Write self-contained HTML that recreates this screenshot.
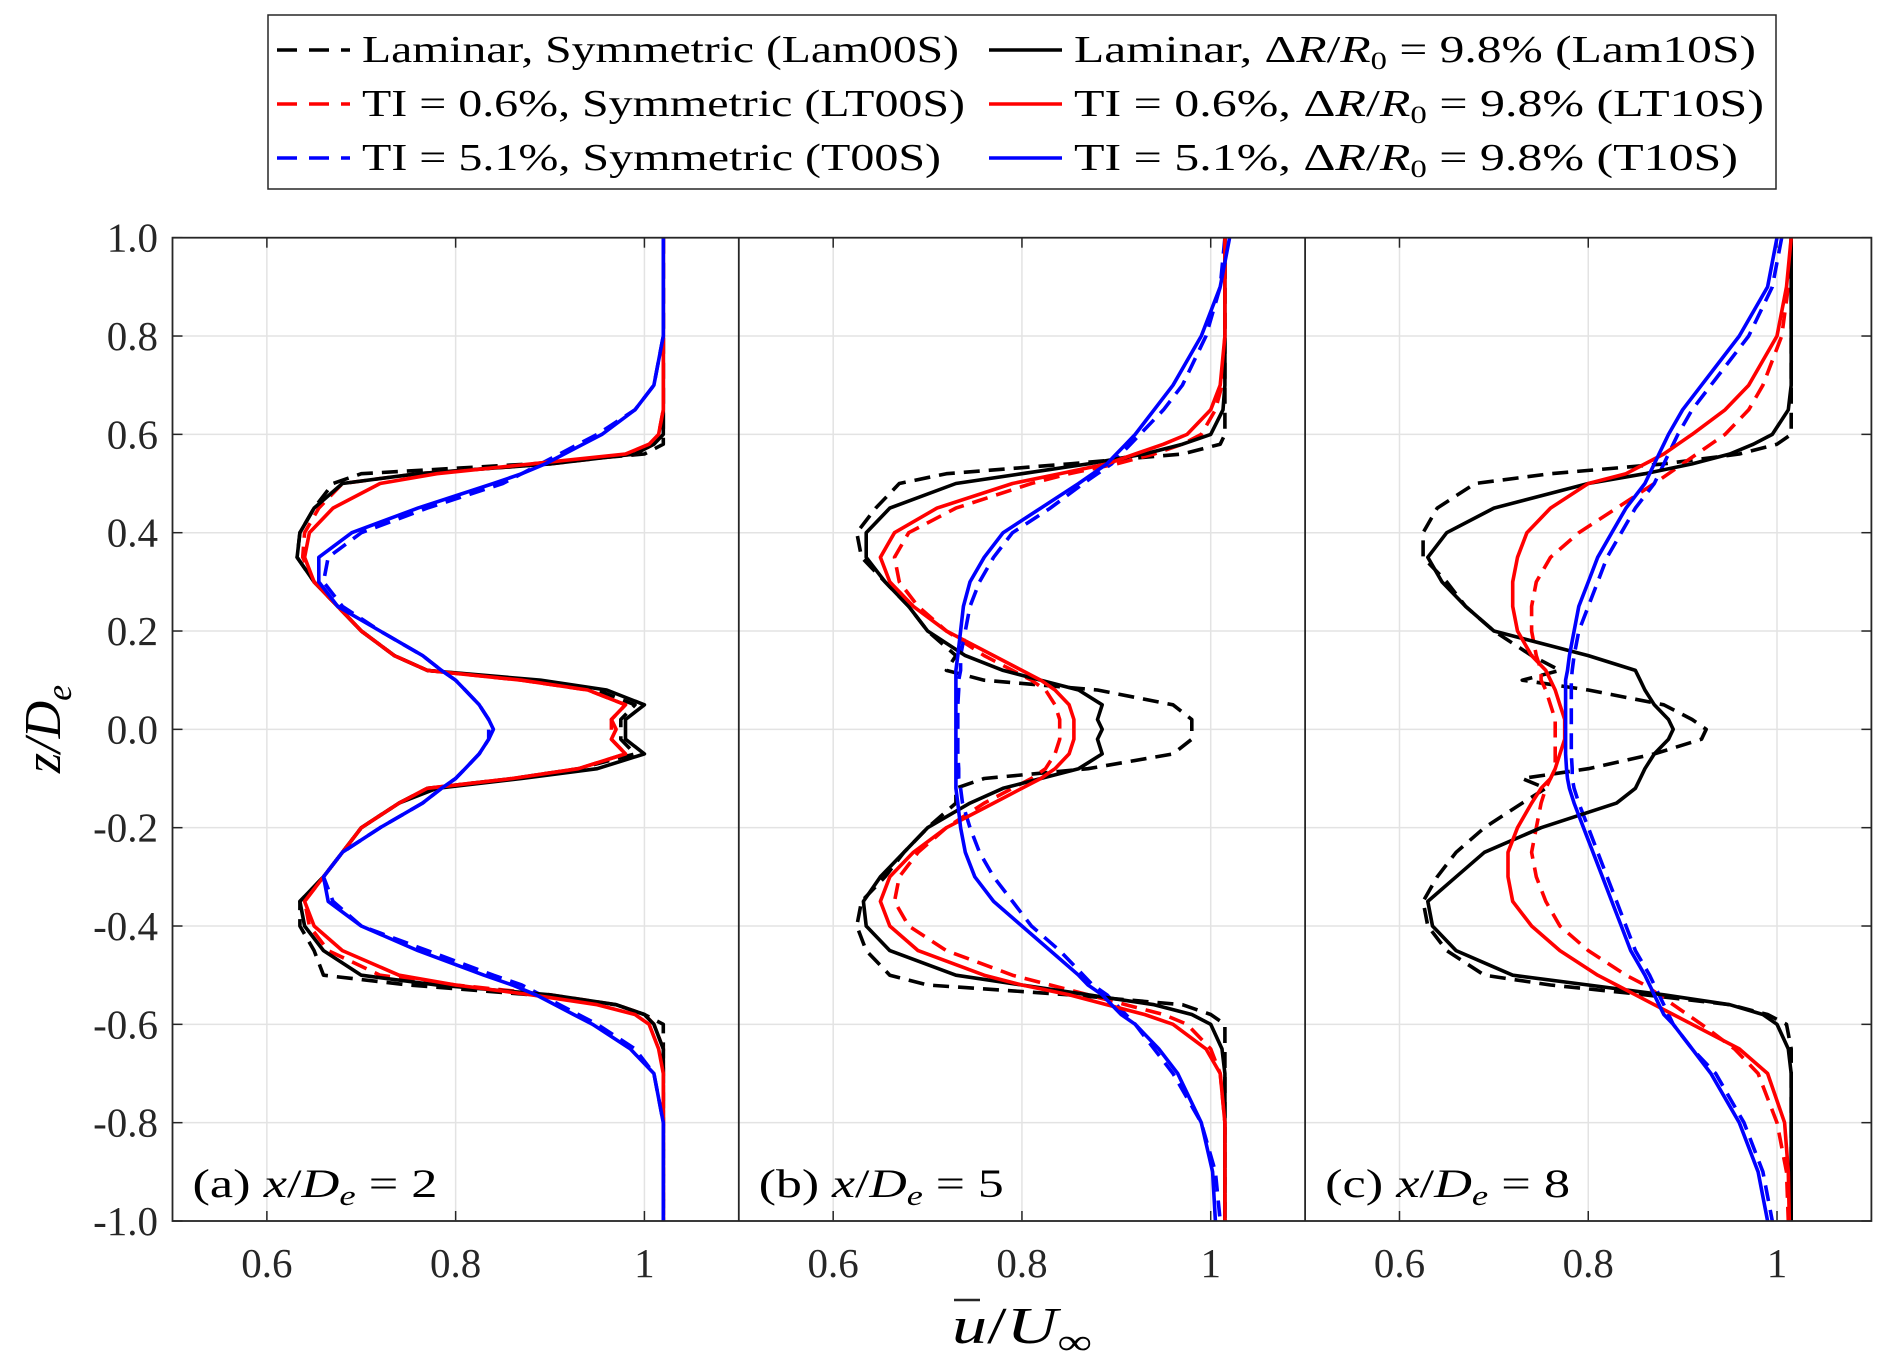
<!DOCTYPE html>
<html><head><meta charset="utf-8">
<style>
html,body{margin:0;padding:0;background:#fff;}
svg{display:block;}
svg text{font-family:"Liberation Serif","DejaVu Serif",serif;}
</style></head>
<body>
<svg id="chart" width="1892" height="1369" viewBox="0 0 1892 1369" xmlns="http://www.w3.org/2000/svg" font-family="Liberation Serif, DejaVu Serif, serif">
  <rect x="0" y="0" width="1892" height="1369" fill="#fff"/>
  <g id="legend">
    <rect x="268" y="15" width="1508" height="174" fill="#fff" stroke="#262626" stroke-width="1.5"/>
  </g>
  <g id="plots"></g>
  <text transform="translate(60,729) rotate(-90)" text-anchor="middle" font-size="52" font-style="italic">z/D<tspan font-size="36" dy="11">e</tspan></text>
  <text x="952" y="1343" font-size="52" textLength="140" lengthAdjust="spacingAndGlyphs"><tspan font-style="italic">u</tspan>/<tspan font-style="italic">U</tspan><tspan font-size="36" dy="11">∞</tspan></text>
  <line x1="954" y1="1300" x2="980" y2="1300" stroke="#262626" stroke-width="2.5"/>
</svg>
<script>
const zGrid=[1,0.9,0.8,0.7,0.65,0.6,0.58,0.56,0.54,0.52,0.5,0.45,0.4,0.35,0.3,0.25,0.2,0.15,0.12,0.1,0.08,0.05,0.02,0,-0.02,-0.05,-0.08,-0.1,-0.12,-0.15,-0.2,-0.25,-0.3,-0.35,-0.4,-0.45,-0.5,-0.52,-0.54,-0.56,-0.58,-0.6,-0.65,-0.7,-0.8,-0.9,-1];
const xTicks=[0.6,0.8,1.0];
const xTickLabels=["0.6","0.8","1"];
const yTicks=[1,0.8,0.6,0.4,0.2,0,-0.2,-0.4,-0.6,-0.8,-1];
const yTickLabels=["1.0","0.8","0.6","0.4","0.2","0.0","-0.2","-0.4","-0.6","-0.8","-1.0"];
const panelLabels=["(a)","(b)","(c)"];
const panelX=["2","5","8"];
// panel a
const aLam00=[1.02,1.02,1.02,1.02,1.02,1.02,1.02,1.0,0.88,0.70,0.67,0.65,0.635,0.632,0.65,0.675,0.70,0.735,0.77,0.88,0.95,0.99,0.975,0.975,0.975,0.99,0.93,0.86,0.77,0.74,0.70,0.68,0.66,0.635,0.635,0.65,0.66,0.75,0.88,0.97,1.0,1.02,1.02,1.02,1.02,1.02,1.02];
const aLam10=[1.02,1.02,1.02,1.02,1.02,1.02,1.01,0.99,0.9,0.76,0.68,0.65,0.635,0.632,0.65,0.675,0.70,0.735,0.77,0.89,0.96,1.0,0.98,0.98,0.98,1.0,0.95,0.87,0.78,0.74,0.70,0.68,0.66,0.635,0.64,0.66,0.7,0.78,0.9,0.97,1.0,1.01,1.02,1.02,1.02,1.02,1.02];
const aLT00=[1.02,1.02,1.02,1.02,1.02,1.015,1.01,0.99,0.9,0.76,0.68,0.655,0.64,0.638,0.65,0.675,0.70,0.735,0.77,0.87,0.94,0.98,0.965,0.965,0.965,0.98,0.93,0.86,0.77,0.74,0.70,0.68,0.66,0.64,0.645,0.665,0.72,0.8,0.9,0.97,1.0,1.01,1.02,1.02,1.02,1.02,1.02];
const aLT10=[1.02,1.02,1.02,1.02,1.02,1.015,1.005,0.98,0.88,0.78,0.72,0.67,0.645,0.64,0.65,0.675,0.70,0.735,0.77,0.87,0.94,0.98,0.965,0.97,0.965,0.98,0.93,0.86,0.77,0.74,0.70,0.68,0.66,0.64,0.65,0.68,0.74,0.8,0.88,0.95,0.99,1.005,1.015,1.02,1.02,1.02,1.02];
const aT00=[1.02,1.02,1.02,1.01,0.99,0.95,0.93,0.91,0.89,0.87,0.85,0.77,0.7,0.665,0.66,0.68,0.72,0.765,0.785,0.8,0.81,0.825,0.835,0.835,0.835,0.825,0.81,0.8,0.785,0.765,0.72,0.68,0.66,0.67,0.7,0.77,0.84,0.87,0.89,0.91,0.93,0.95,0.99,1.01,1.02,1.02,1.02];
const aT10=[1.02,1.02,1.02,1.01,0.99,0.955,0.935,0.915,0.895,0.87,0.84,0.76,0.69,0.655,0.655,0.675,0.72,0.765,0.785,0.8,0.81,0.825,0.835,0.84,0.835,0.825,0.81,0.8,0.785,0.765,0.72,0.68,0.66,0.665,0.7,0.76,0.83,0.86,0.885,0.905,0.925,0.945,0.985,1.01,1.02,1.02,1.02];
// panel b
const bLam00=[1.015,1.015,1.015,1.015,1.015,1.015,1.01,0.97,0.85,0.72,0.67,0.645,0.625,0.63,0.655,0.68,0.70,0.73,0.72,0.76,0.88,0.96,0.98,0.98,0.98,0.96,0.87,0.76,0.73,0.73,0.70,0.675,0.655,0.63,0.625,0.635,0.66,0.7,0.85,0.97,1.0,1.015,1.015,1.015,1.015,1.015,1.015];
const bLam10=[1.015,1.015,1.015,1.015,1.013,1.0,0.97,0.93,0.87,0.8,0.73,0.66,0.635,0.635,0.655,0.68,0.70,0.74,0.78,0.82,0.86,0.885,0.88,0.885,0.88,0.885,0.86,0.82,0.78,0.745,0.70,0.675,0.65,0.632,0.635,0.66,0.73,0.8,0.87,0.94,0.98,1.0,1.012,1.015,1.015,1.015,1.015];
const bLT00=[1.015,1.015,1.015,1.012,1.005,0.99,0.97,0.94,0.9,0.85,0.81,0.73,0.68,0.665,0.67,0.69,0.72,0.76,0.79,0.81,0.825,0.835,0.84,0.84,0.84,0.835,0.825,0.81,0.79,0.76,0.72,0.69,0.67,0.665,0.68,0.72,0.79,0.83,0.87,0.91,0.95,0.975,1.0,1.01,1.015,1.015,1.015];
const bLT10=[1.015,1.015,1.015,1.01,1.0,0.975,0.95,0.92,0.89,0.84,0.79,0.71,0.665,0.65,0.66,0.685,0.72,0.77,0.8,0.82,0.835,0.85,0.855,0.855,0.855,0.85,0.835,0.82,0.8,0.77,0.72,0.685,0.66,0.65,0.66,0.69,0.76,0.8,0.85,0.89,0.93,0.96,0.995,1.01,1.015,1.015,1.015];
const bT00=[1.015,1.01,0.995,0.97,0.95,0.925,0.915,0.905,0.895,0.88,0.865,0.83,0.79,0.77,0.755,0.745,0.74,0.735,0.735,0.733,0.733,0.732,0.732,0.732,0.732,0.732,0.733,0.733,0.735,0.737,0.745,0.755,0.77,0.79,0.81,0.84,0.865,0.875,0.89,0.9,0.91,0.92,0.94,0.96,0.99,1.005,1.01];
const bT10=[1.02,1.01,0.99,0.96,0.94,0.92,0.91,0.9,0.89,0.875,0.86,0.82,0.78,0.76,0.745,0.738,0.735,0.732,0.73,0.73,0.73,0.73,0.73,0.73,0.73,0.73,0.73,0.73,0.73,0.732,0.735,0.74,0.75,0.77,0.8,0.83,0.86,0.87,0.885,0.895,0.905,0.92,0.945,0.965,0.99,1.002,1.005];
// panel c
const cLam00=[1.015,1.015,1.015,1.015,1.015,1.015,1.0,0.96,0.88,0.76,0.68,0.64,0.625,0.625,0.65,0.67,0.7,0.74,0.77,0.73,0.80,0.88,0.91,0.925,0.92,0.87,0.8,0.73,0.755,0.73,0.69,0.66,0.64,0.625,0.63,0.65,0.69,0.76,0.86,0.95,0.99,1.01,1.015,1.015,1.015,1.015,1.015];
const cLam10=[1.015,1.015,1.015,1.015,1.012,0.995,0.975,0.95,0.91,0.86,0.8,0.7,0.65,0.63,0.645,0.67,0.70,0.8,0.85,0.855,0.86,0.87,0.885,0.89,0.885,0.87,0.86,0.855,0.85,0.83,0.75,0.69,0.66,0.63,0.635,0.66,0.72,0.8,0.88,0.95,0.985,1.0,1.012,1.015,1.015,1.015,1.015];
const cLT00=[1.015,1.012,1.005,0.985,0.97,0.945,0.93,0.915,0.9,0.885,0.87,0.83,0.79,0.76,0.745,0.74,0.74,0.745,0.75,0.75,0.755,0.76,0.765,0.765,0.765,0.765,0.765,0.76,0.755,0.75,0.745,0.74,0.745,0.755,0.77,0.8,0.84,0.86,0.875,0.89,0.905,0.92,0.955,0.98,1.0,1.01,1.012];
const cLT10=[1.015,1.01,1.0,0.97,0.945,0.91,0.895,0.88,0.86,0.84,0.8,0.76,0.735,0.725,0.72,0.72,0.725,0.74,0.755,0.76,0.765,0.77,0.775,0.775,0.775,0.77,0.765,0.76,0.75,0.74,0.725,0.715,0.715,0.72,0.74,0.77,0.81,0.83,0.85,0.87,0.89,0.91,0.96,0.99,1.008,1.012,1.013];
const cT00=[1.005,0.995,0.97,0.93,0.91,0.895,0.89,0.885,0.88,0.875,0.87,0.85,0.835,0.82,0.81,0.8,0.79,0.785,0.783,0.782,0.782,0.782,0.782,0.782,0.782,0.782,0.783,0.783,0.785,0.79,0.8,0.81,0.82,0.83,0.84,0.85,0.865,0.87,0.875,0.88,0.885,0.89,0.91,0.935,0.965,0.985,0.995];
const cT10=[1.0,0.99,0.96,0.92,0.9,0.885,0.88,0.875,0.87,0.865,0.86,0.84,0.825,0.81,0.8,0.79,0.785,0.78,0.778,0.776,0.776,0.776,0.776,0.776,0.776,0.776,0.777,0.778,0.78,0.785,0.795,0.805,0.815,0.825,0.835,0.845,0.86,0.865,0.87,0.875,0.88,0.89,0.91,0.93,0.96,0.98,0.99];

const NS="http://www.w3.org/2000/svg";
const plots=document.getElementById('plots');
const legend=document.getElementById('legend');
const L=172.5,T=237.7,B=1221,PW=566.3,XMIN=0.5,XMAX=1.1;
function xs(p,u){return L+p*PW+(u-XMIN)/(XMAX-XMIN)*PW;}
function ys(z){return T+(1-z)/2*(B-T);}
function mk(tag,attrs,parent){const e=document.createElementNS(NS,tag);for(const k in attrs)e.setAttribute(k,attrs[k]);(parent||plots).appendChild(e);return e;}

const series=[
 {key:'lam00',color:'#000',dash:true,data:[aLam00,bLam00,cLam00]},
 {key:'lt00',color:'#ff0000',dash:true,data:[aLT00,bLT00,cLT00]},
 {key:'t00',color:'#0000ff',dash:true,data:[aT00,bT00,cT00]},
 {key:'lam10',color:'#000',dash:false,data:[aLam10,bLam10,cLam10]},
 {key:'lt10',color:'#ff0000',dash:false,data:[aLT10,bLT10,cLT10]},
 {key:'t10',color:'#0000ff',dash:false,data:[aT10,bT10,cT10]}
];

for(let p=0;p<3;p++){
  const g=mk('g',{});
  
  
  xTicks.forEach(t=>{
    const l=mk('line',{x1:xs(p,t),x2:xs(p,t),y1:T,y2:B,stroke:'#e3e3e3','stroke-width':1.5},g);
    
    
    mk('line',{x1:xs(p,t),x2:xs(p,t),y1:B,y2:B-10,stroke:'#262626','stroke-width':1.5},g);
    mk('line',{x1:xs(p,t),x2:xs(p,t),y1:T,y2:T+10,stroke:'#262626','stroke-width':1.5},g);
  });
  xTicks.forEach((t,i)=>{
    const tx=mk('text',{x:xs(p,t),y:1277,'text-anchor':'middle','font-size':41,fill:'#262626'},g);
    tx.textContent=xTickLabels[i];
    
    
  });
  yTicks.forEach(t=>{
    const l=mk('line',{x1:L+p*PW,x2:L+(p+1)*PW,y1:ys(t),y2:ys(t),stroke:'#e3e3e3','stroke-width':1.5},g);
    
    
  });
  series.forEach(s=>{
    const arr=s.data[p];const n=Math.min(arr.length,zGrid.length);
    let d='';for(let i=0;i<n;i++){d+=(i?'L':'M')+xs(p,arr[i]).toFixed(1)+','+ys(zGrid[i]).toFixed(1);}
    const path=mk('path',{d:d,fill:'none',stroke:s.color,'stroke-width':3.6,'stroke-linejoin':'round'},g);
    if(s.dash)path.setAttribute('stroke-dasharray','16 9');
    
    
  });
  const lab=mk('text',{x:L+p*PW+20,y:1197,'font-size':40,fill:'#000',textLength:245,lengthAdjust:'spacingAndGlyphs'},g);
  lab.innerHTML=panelLabels[p]+' <tspan font-style="italic">x</tspan>/<tspan font-style="italic">D</tspan><tspan font-size="28" font-style="italic" dy="8">e</tspan><tspan dy="-8"> = '+panelX[p]+'</tspan>';
  
  
}
yTicks.forEach((t,i)=>{
  mk('line',{x1:L,x2:L+10,y1:ys(t),y2:ys(t),stroke:'#262626','stroke-width':1.5});
  mk('line',{x1:L+3*PW,x2:L+3*PW-10,y1:ys(t),y2:ys(t),stroke:'#262626','stroke-width':1.5});
  const tx=mk('text',{x:158,y:ys(t)+14,'text-anchor':'end','font-size':41,fill:'#262626'});
  tx.textContent=yTickLabels[i];
  
  
});
for(let p=1;p<3;p++){
  const l=mk('line',{x1:L+p*PW,x2:L+p*PW,y1:T,y2:B,stroke:'#262626','stroke-width':1.8});
  
  
}
const fr=mk('rect',{x:L,y:T,width:3*PW,height:B-T,fill:'none',stroke:'#262626','stroke-width':1.8});



const legEntries=[
 {x:277,y:50,w:597,color:'#000',dash:true,html:'Laminar, Symmetric (Lam00S)'},
 {x:277,y:104,w:603,color:'#ff0000',dash:true,html:'TI = 0.6%, Symmetric (LT00S)'},
 {x:277,y:158,w:579,color:'#0000ff',dash:true,html:'TI = 5.1%, Symmetric (T00S)'},
 {x:989,y:50,w:682,color:'#000',dash:false,html:'Laminar, Δ<tspan font-style="italic">R</tspan>/<tspan font-style="italic">R</tspan><tspan font-size="25" dy="7">0</tspan><tspan dy="-7"> = 9.8% (Lam10S)</tspan>'},
 {x:989,y:104,w:690,color:'#ff0000',dash:false,html:'TI = 0.6%, Δ<tspan font-style="italic">R</tspan>/<tspan font-style="italic">R</tspan><tspan font-size="25" dy="7">0</tspan><tspan dy="-7"> = 9.8% (LT10S)</tspan>'},
 {x:989,y:158,w:664,color:'#0000ff',dash:false,html:'TI = 5.1%, Δ<tspan font-style="italic">R</tspan>/<tspan font-style="italic">R</tspan><tspan font-size="25" dy="7">0</tspan><tspan dy="-7"> = 9.8% (T10S)</tspan>'}
];
legEntries.forEach((e,i)=>{
  const g=mk('g',{},legend);
  
  
  const ln=mk('line',{x1:e.x,x2:e.x+73,y1:e.y,y2:e.y,stroke:e.color,'stroke-width':3.6},g);
  if(e.dash)ln.setAttribute('stroke-dasharray','20 12');
  const t=mk('text',{x:e.x+85,y:e.y+12,'font-size':38,fill:'#000',textLength:e.w,lengthAdjust:'spacingAndGlyphs'},g);
  t.innerHTML=e.html;
});
</script>
</body></html>
